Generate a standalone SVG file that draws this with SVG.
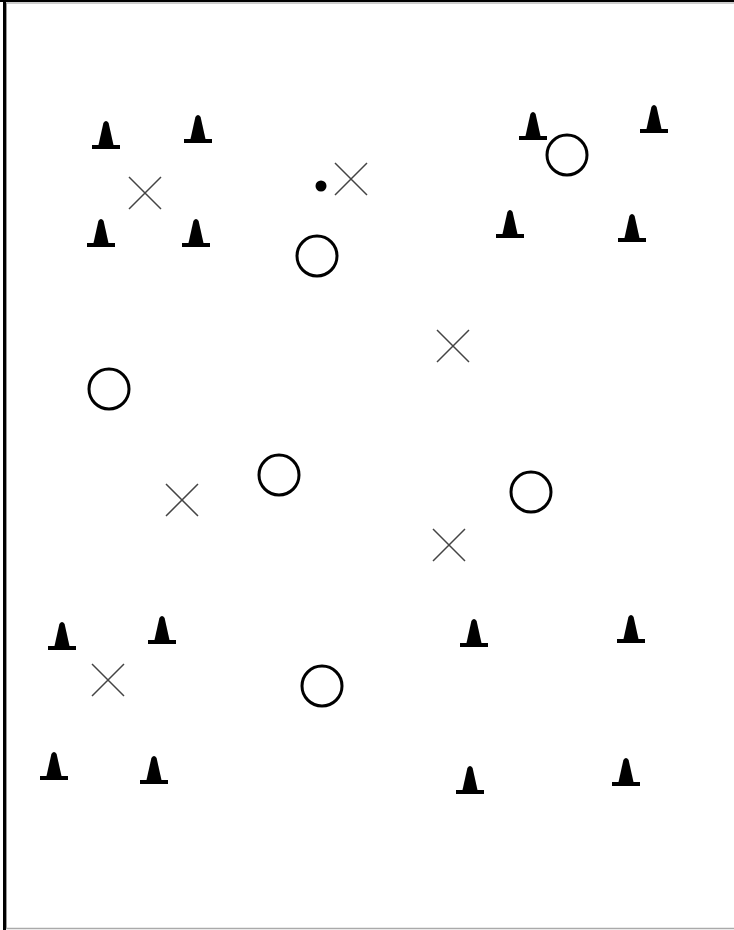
<svg xmlns="http://www.w3.org/2000/svg" width="734" height="930" viewBox="0 0 734 930">
<style>
.cone{fill:#000}
.ring{fill:none;stroke:#000;stroke-width:3}
.x{stroke:#444;stroke-width:1.5;fill:none}
</style>
<defs>
<g id="cone">
<rect x="-14" y="-4" width="28" height="4"/>
<path d="M-7.5,-4 L-2.6,-26 Q0,-30 2.6,-26 L7.5,-4 Z"/>
</g>
<path id="xm" d="M-16,-16 L16,16 M16,-16 L-16,16"/>
</defs>
<rect x="0" y="0" width="734" height="930" fill="#fff"/>
<g id="frame">
<line x1="4.5" y1="0" x2="4.5" y2="930" stroke="#000" stroke-width="3"/>
<line x1="6.5" y1="3" x2="6.5" y2="928" stroke="#999" stroke-width="1"/>
<line x1="0" y1="1" x2="734" y2="1" stroke="#000" stroke-width="2"/>
<line x1="6" y1="3" x2="734" y2="3" stroke="#999" stroke-width="1"/>
<line x1="6" y1="928.5" x2="734" y2="928.5" stroke="#aaa" stroke-width="1.5"/>
</g>
<g id="cones" class="cone">
<use href="#cone" x="106" y="149"/>
<use href="#cone" x="198" y="143"/>
<use href="#cone" x="101" y="247"/>
<use href="#cone" x="196" y="247"/>
<use href="#cone" x="533" y="140"/>
<use href="#cone" x="654" y="133"/>
<use href="#cone" x="510" y="238"/>
<use href="#cone" x="632" y="242"/>
<use href="#cone" x="62" y="650"/>
<use href="#cone" x="162" y="644"/>
<use href="#cone" x="54" y="780"/>
<use href="#cone" x="154" y="784"/>
<use href="#cone" x="474" y="647"/>
<use href="#cone" x="631" y="643"/>
<use href="#cone" x="470" y="794"/>
<use href="#cone" x="626" y="786"/>
</g>
<g id="rings" class="ring">
<circle cx="567" cy="155" r="20"/>
<circle cx="317" cy="256" r="20"/>
<circle cx="109" cy="389" r="20"/>
<circle cx="279" cy="475" r="20"/>
<circle cx="531" cy="492" r="20"/>
<circle cx="322" cy="686" r="20"/>
</g>
<g id="marks" class="x">
<use href="#xm" x="145" y="193"/>
<use href="#xm" x="351" y="179"/>
<use href="#xm" x="453" y="346"/>
<use href="#xm" x="182" y="500"/>
<use href="#xm" x="449" y="545"/>
<use href="#xm" x="108" y="680"/>
</g>
<circle id="dot" cx="321" cy="186" r="5.5" fill="#000"/>
</svg>
